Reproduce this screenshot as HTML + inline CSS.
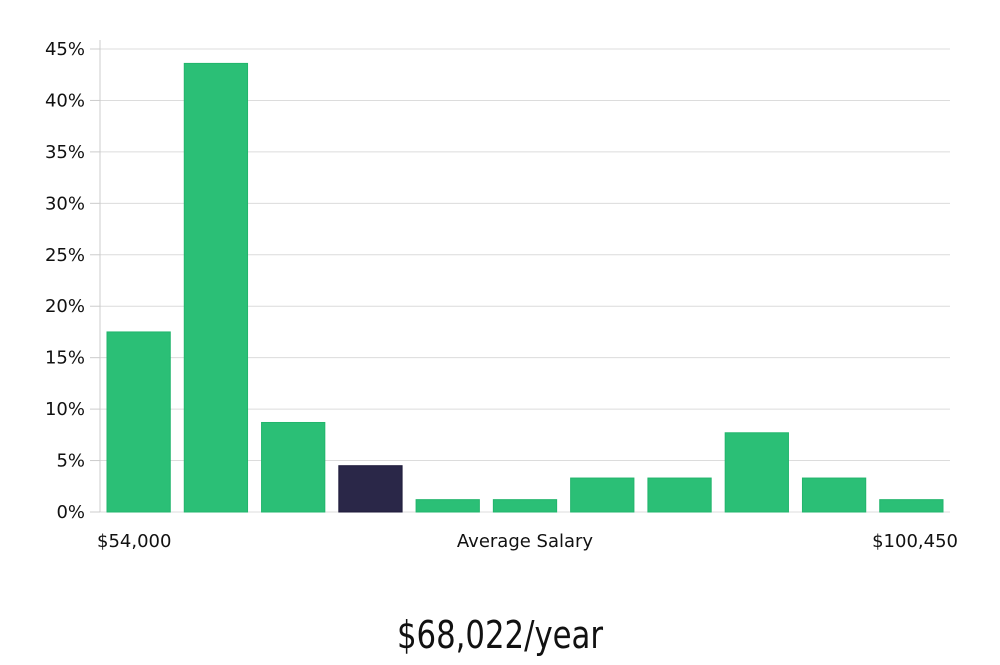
<!DOCTYPE html>
<html><head><meta charset="utf-8"><style>
body{margin:0;background:#fff;width:1000px;height:660px;overflow:hidden}
svg text{font-family:"DejaVu Sans","Liberation Sans",sans-serif;fill:#111}
</style></head><body>
<svg id="chart" width="1000" height="660" xmlns="http://www.w3.org/2000/svg">
<g id="grid"></g><g id="bars"></g><g id="axes"></g>
<text x="97" y="547" font-size="18">$54,000</text>
<text x="525" y="547" font-size="18" text-anchor="middle">Average Salary</text>
<text x="958" y="547" font-size="18" text-anchor="end">$100,450</text>
<text x="500" y="648" font-size="38" text-anchor="middle" style="font-family:'DejaVu Sans Condensed','Liberation Sans',sans-serif" transform="translate(500,0) scale(0.9,1) translate(-500,0)">$68,022/year</text>
</svg>
<script>
const values = [17.5, 43.6, 8.7, 4.5, 1.2, 1.2, 3.3, 3.3, 7.7, 3.3, 1.2];
const highlight = [false, false, false, true, false, false, false, false, false, false, false];
const yTicks = [0, 5, 10, 15, 20, 25, 30, 35, 40, 45];
const NS = "http://www.w3.org/2000/svg";
const x0 = 100, x1 = 950, yBase = 512, yTop = 49, yMax = 45;
const y = v => yBase - (v / yMax) * (yBase - yTop);
const band = (x1 - x0) / values.length;
const grid = document.getElementById('grid'), bars = document.getElementById('bars'), axes = document.getElementById('axes');
function mk(tag, attrs, parent){const e=document.createElementNS(NS,tag);for(const k in attrs)e.setAttribute(k,attrs[k]);parent.appendChild(e);return e;}
yTicks.forEach(t => {
  const gl = mk('line', {x1:x0, x2:x1, y1:y(t), y2:y(t), stroke:'#dcdcdc', 'stroke-width':1}, grid);
  
  
  const tk = mk('line', {x1:90, x2:x0, y1:y(t), y2:y(t), stroke:'#ccc', 'stroke-width':1}, axes);
  
  
  const lb = mk('text', {x:85, y:y(t)+6, 'font-size':18, 'text-anchor':'end'}, axes);
  lb.textContent = t + '%';
  
  
});
const ax = mk('line', {x1:x0, x2:x0, y1:40, y2:yBase, stroke:'#ccc', 'stroke-width':1}, axes);


values.forEach((v, i) => {
  const bx = x0 + i * band + 7;
  const r = mk('rect', {x:bx, y:y(v), width:band-14, height:yBase - y(v),
    fill: highlight[i] ? '#2a2748' : '#2bbf76', stroke: highlight[i] ? '#1d1a3a' : '#22b56c', 'stroke-width':1}, bars);
  
  
});
</script>
</body></html>
